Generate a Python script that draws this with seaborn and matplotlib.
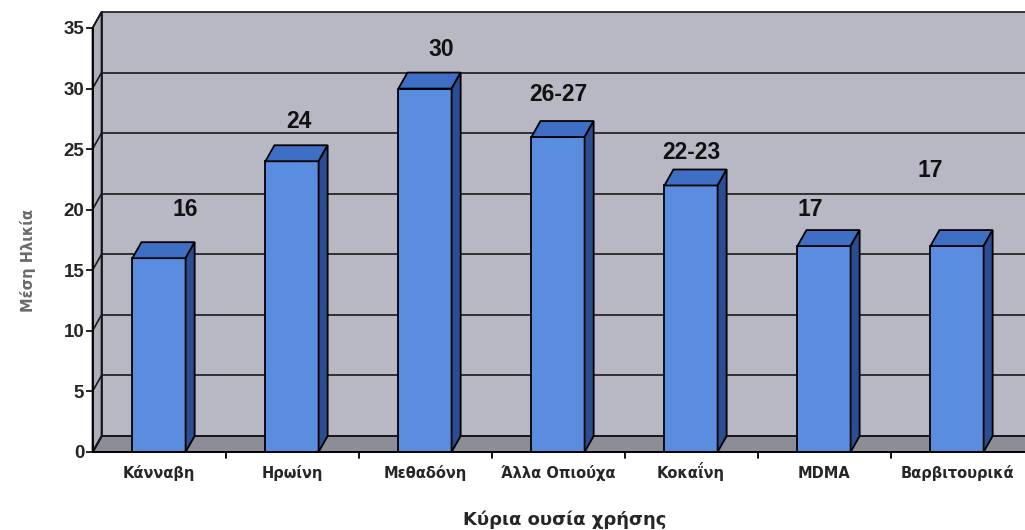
import matplotlib
matplotlib.use("Agg")
import matplotlib.pyplot as plt
from matplotlib.patches import Polygon
import seaborn as sns
import pandas as pd

# Mean age by main substance of use
categories = ["Κάνναβη", "Ηρωίνη", "Μεθαδόνη", "Άλλα Οπιούχα", "Κοκαΐνη", "MDMA", "Βαρβιτουρικά"]
mean_age = [16, 24, 30, 26, 22, 17, 17]
value_labels = ["16", "24", "30", "26-27", "22-23", "17", "17"]
y_ticks = [0, 5, 10, 15, 20, 25, 30, 35]

# label nudges (x in category units, y in years above the bar)
label_nudge = [(0.20, 4.0), (0.05, 3.3), (0.12, 3.2), (0.0, 3.5), (0.0, 2.7), (-0.10, 3.0), (-0.20, 6.2)]

sns.set_theme(style="white")
plt.rcParams["font.family"] = ["Liberation Sans", "DejaVu Sans"]
WIDE = ["DejaVu Sans"]

FRONT = "#5a8de0"
TOP = "#3f6fc4"
SIDE = "#2b4d92"
WALL = "#b8b8c5"
SIDEWALL = "#afafbc"
FLOOR = "#8d8d97"

fig = plt.figure(figsize=(10.25, 5.30), dpi=100)
ax = fig.add_axes([92.5 / 1025, 1 - 452 / 530, (1023.5 - 92.5) / 1025, (452 - 28) / 530])

df = pd.DataFrame({"cat": categories, "age": mean_age})
sns.barplot(data=df, x="cat", y="age", width=0.4, color=FRONT, saturation=1,
            edgecolor="black", linewidth=1.3, ax=ax, zorder=5)

ax.set_xlim(-0.5, len(categories) - 0.5)
ax.set_ylim(0, 35)

# depth offset of the 3D box (data units)
dx, dy = 0.068, 1.32
x0 = -0.5
x_far = len(categories) + 1

# back wall
ax.add_patch(Polygon([(x0 + dx, dy), (x_far, dy), (x_far, 35 + dy), (x0 + dx, 35 + dy)],
                     closed=True, facecolor=WALL, edgecolor="none", zorder=0, clip_on=False))
# left side wall
ax.add_patch(Polygon([(x0, 0), (x0 + dx, dy), (x0 + dx, 35 + dy), (x0, 35)],
                     closed=True, facecolor=SIDEWALL, edgecolor="black", linewidth=1.2,
                     zorder=1, clip_on=False))
# floor
ax.add_patch(Polygon([(x0, 0), (x_far, 0), (x_far, dy), (x0 + dx, dy)],
                     closed=True, facecolor=FLOOR, edgecolor="black", linewidth=1.2,
                     zorder=1, clip_on=False))
# grid lines on the back wall and side wall
for t in y_ticks:
    ax.plot([x0 + dx, x_far], [t + dy, t + dy], color="#1a1a1a", lw=1.2, zorder=2, clip_on=False)
    ax.plot([x0, x0 + dx], [t, t + dy], color="#1a1a1a", lw=1.2, zorder=2, clip_on=False)
ax.plot([x0 + dx, x0 + dx], [dy, 35 + dy], color="#1a1a1a", lw=1.2, zorder=2, clip_on=False)

# top and side faces of each column
for p in ax.patches[:len(categories)]:
    bx, bw, bh = p.get_x(), p.get_width(), p.get_height()
    top = Polygon([(bx, bh), (bx + dx, bh + dy), (bx + bw + dx, bh + dy), (bx + bw, bh)],
                  closed=True, facecolor=TOP, edgecolor="black", linewidth=1.3, zorder=6)
    side = Polygon([(bx + bw, 0), (bx + bw + dx, dy), (bx + bw + dx, bh + dy), (bx + bw, bh)],
                   closed=True, facecolor=SIDE, edgecolor="black", linewidth=1.3, zorder=6)
    ax.add_patch(top)
    ax.add_patch(side)

# value labels
for i, (v, lab) in enumerate(zip(mean_age, value_labels)):
    ox, oy = label_nudge[i]
    ax.text(i + ox, v + oy, lab, ha="center", va="center", fontsize=16.5,
            fontweight="bold", color="#111111", zorder=7)

# axes styling
for s in ["top", "right", "left"]:
    ax.spines[s].set_visible(False)
ax.spines["bottom"].set_color("black")
ax.spines["bottom"].set_linewidth(1.3)
ax.spines["bottom"].set_zorder(8)
ax.plot([x0, x0], [0, 35], color="black", lw=1.3, zorder=8, clip_on=False)

ax.set_yticks(y_ticks)
ax.set_yticklabels([str(t) for t in y_ticks], fontsize=13.5, fontweight="bold")
ax.tick_params(axis="y", left=True, length=5, width=1.2, color="black", pad=1)

ax.set_xticks(range(len(categories)))
ax.set_xticklabels(categories, fontsize=10.5, fontweight="bold", family=WIDE)
ax.tick_params(axis="x", bottom=False, pad=13)
for lbl in ax.get_xticklabels():
    lbl.set_va("baseline")
for k in range(len(categories) - 1):
    ax.plot([k + 0.5, k + 0.5], [0, -0.5], color="black", lw=1.3, clip_on=False, zorder=8)

ax.set_xlabel("Κύρια ουσία χρήσης", fontsize=13, fontweight="bold", family=WIDE)
ax.xaxis.set_label_coords((565 - 92.5) / 931, -(520 - 452) / 424)
ax.xaxis.label.set_va("center")
ax.set_ylabel("Μέση Ηλικία", fontsize=10.5, fontweight="bold", color="#6a6a6a", family=WIDE)
ax.yaxis.set_label_coords(-(92.5 - 28) / 931, (452 - 260) / 424)
ax.yaxis.label.set_va("center")
ax.set_facecolor("none")
ax.grid(False)

fig.savefig("out.png", dpi=100, facecolor="white")
